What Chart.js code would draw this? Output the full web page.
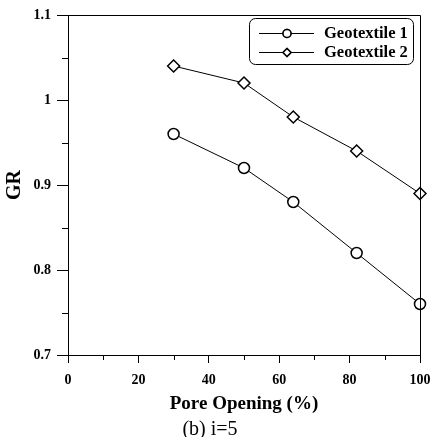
<!DOCTYPE html>
<html>
<head>
<meta charset="utf-8">
<script src="https://cdn.jsdelivr.net/npm/chart.js@4/dist/chart.umd.min.js"></script>
<style>
html,body{margin:0;padding:0;background:#fff;}
#wrap{width:431px;height:437px;position:relative;}
</style>
</head>
<body>
<div id="wrap"><canvas id="c" width="431" height="437"></canvas></div>
<script>
const poreOpening = [30, 50, 64, 82, 100];
const geotextile1 = [0.96, 0.92, 0.88, 0.82, 0.76];
const geotextile2 = [1.04, 1.02, 0.98, 0.94, 0.89];
const seriesNames = ['Geotextile 1', 'Geotextile 2'];
const xTitle = 'Pore Opening (%)';
const yTitle = 'GR';
const caption = '(b) i=5';
const xMinorTicks = [10, 30, 50, 70, 90];
const yMinorTicks = [0.75, 0.85, 0.95, 1.05];

const SERIF = '"Liberation Serif", "Times New Roman", serif';

function toPoints(xs, ys) { return xs.map((x, i) => ({x: x, y: ys[i]})); }

const frameAndLegend = {
  id: 'frameAndLegend',
  afterDraw(chart) {
    const ctx = chart.ctx;
    const a = chart.chartArea;
    const xs = chart.scales.x, ys = chart.scales.y;
    ctx.save();
    ctx.strokeStyle = '#000';
    ctx.lineWidth = 1;
    ctx.beginPath();
    ctx.moveTo(Math.round(a.left) + 0.5, Math.round(a.top) + 0.5);
    ctx.lineTo(Math.round(a.right) + 0.5, Math.round(a.top) + 0.5);
    ctx.lineTo(Math.round(a.right) + 0.5, Math.round(a.bottom) + 0.5);
    ctx.stroke();
    ctx.beginPath();
    xMinorTicks.forEach(v => {
      const px = Math.round(xs.getPixelForValue(v)) + 0.5;
      ctx.moveTo(px, Math.round(a.bottom));
      ctx.lineTo(px, Math.round(a.bottom) + 5);
    });
    yMinorTicks.forEach(v => {
      const py = Math.round(ys.getPixelForValue(v)) + 0.5;
      ctx.moveTo(Math.round(a.left), py);
      ctx.lineTo(Math.round(a.left) - 6, py);
    });
    ctx.stroke();
    const bx = 249.5, by = 18.5, bw = 164, bh = 46, r = 6;
    ctx.beginPath();
    ctx.moveTo(bx + r, by);
    ctx.lineTo(bx + bw - r, by);
    ctx.arcTo(bx + bw, by, bx + bw, by + r, r);
    ctx.lineTo(bx + bw, by + bh - r);
    ctx.arcTo(bx + bw, by + bh, bx + bw - r, by + bh, r);
    ctx.lineTo(bx + r, by + bh);
    ctx.arcTo(bx, by + bh, bx, by + bh - r, r);
    ctx.lineTo(bx, by + r);
    ctx.arcTo(bx, by, bx + r, by, r);
    ctx.closePath();
    ctx.fillStyle = '#fff';
    ctx.fill();
    ctx.stroke();
    const rows = [33.5, 52.5];
    chart.data.datasets.forEach((ds, i) => {
      const y = rows[i];
      ctx.strokeStyle = '#000';
      ctx.lineWidth = 1;
      ctx.beginPath();
      ctx.moveTo(259, y);
      ctx.lineTo(314, y);
      ctx.stroke();
      ctx.lineWidth = 1.5;
      ctx.fillStyle = '#fff';
      Chart.helpers.drawPoint(ctx, {pointStyle: ds.pointStyle, radius: 4, borderWidth: 1.5, rotation: 0}, 287, y);
      ctx.fill();
      ctx.stroke();
      ctx.fillStyle = '#000';
      ctx.font = 'bold 16.5px ' + SERIF;
      ctx.textAlign = 'left';
      ctx.textBaseline = 'middle';
      ctx.fillText(ds.label, 324, y + 0.5);
    });
    ctx.restore();
  }
};

new Chart(document.getElementById('c'), {
  type: 'scatter',
  data: {
    datasets: [
      {
        label: seriesNames[0],
        data: toPoints(poreOpening, geotextile1),
        showLine: true,
        borderColor: '#000',
        borderWidth: 1,
        pointStyle: 'circle',
        pointRadius: 5.5,
        pointBorderWidth: 1.5,
        pointBackgroundColor: '#fff',
        pointBorderColor: '#000',
        clip: false
      },
      {
        label: seriesNames[1],
        data: toPoints(poreOpening, geotextile2),
        showLine: true,
        borderColor: '#000',
        borderWidth: 1,
        pointStyle: 'rectRot',
        pointRadius: 6,
        pointBorderWidth: 1.5,
        pointBackgroundColor: '#fff',
        pointBorderColor: '#000',
        clip: false
      }
    ]
  },
  options: {
    responsive: false,
    animation: false,
    events: [],
    layout: {padding: {left: 0, right: 11, top: 15, bottom: 0}},
    plugins: {
      legend: {display: false},
      tooltip: {enabled: false},
      subtitle: {
        display: true,
        text: caption,
        position: 'bottom',
        color: '#000',
        font: {family: SERIF, size: 20, weight: 'normal', lineHeight: 0.75},
        padding: {top: 0, bottom: 0}
      }
    },
    scales: {
      x: {
        type: 'linear',
        min: 0, max: 100,
        afterFit(scale) { scale.height = 67; scale.paddingLeft = 0; scale.paddingRight = 0; },
        ticks: {stepSize: 20, color: '#000', padding: 9, font: {family: SERIF, size: 14, weight: 'bold'}},
        grid: {drawOnChartArea: false, tickLength: 8, tickColor: '#000', tickWidth: 1},
        border: {display: true, color: '#000', width: 1},
        title: {display: true, text: xTitle, color: '#000', font: {family: SERIF, size: 19, weight: 'bold'}, padding: {top: 0, bottom: 6.6}}
      },
      y: {
        type: 'linear',
        min: 0.7, max: 1.1,
        afterFit(scale) { scale.width = 68; scale.paddingTop = 0; scale.paddingBottom = 0; },
        ticks: {stepSize: 0.1, color: '#000', padding: 6, font: {family: SERIF, size: 14, weight: 'bold'},
          callback: v => String(Math.round(v * 10) / 10)},
        grid: {drawOnChartArea: false, tickLength: 11, tickColor: '#000', tickWidth: 1},
        border: {display: true, color: '#000', width: 1},
        title: {display: true, text: yTitle, color: '#000', font: {family: SERIF, size: 20, weight: 'bold'}, padding: {top: 3, bottom: 0}}
      }
    }
  },
  plugins: [frameAndLegend]
});
</script>
</body>
</html>
